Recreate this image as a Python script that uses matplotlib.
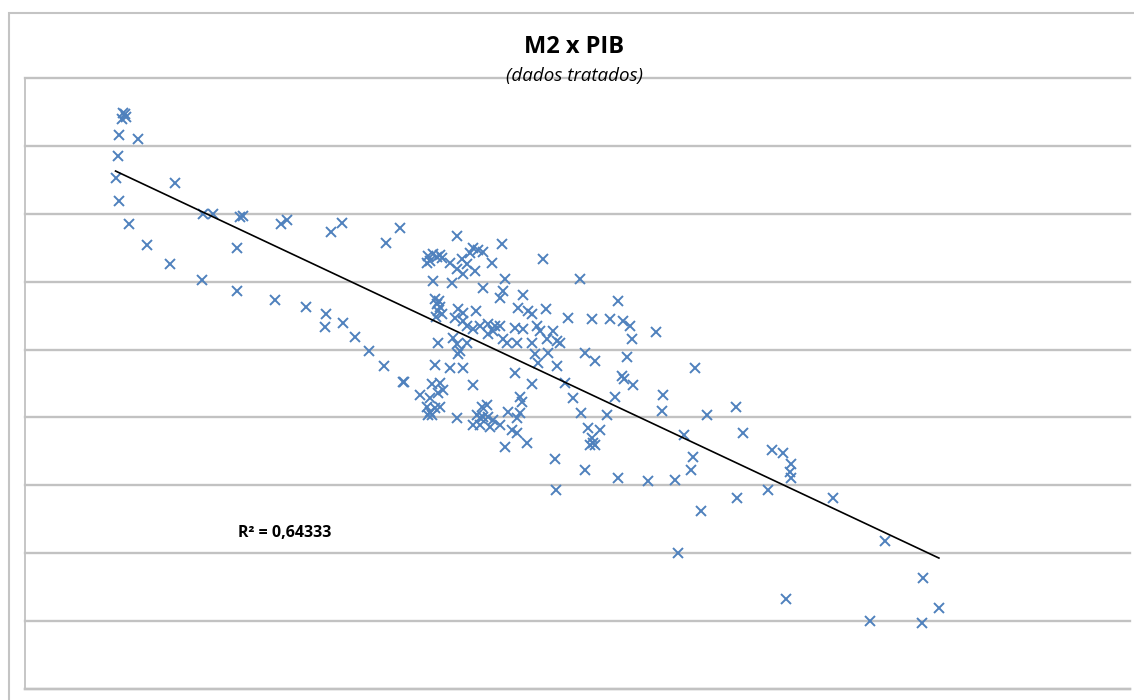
import numpy as np
import matplotlib
matplotlib.use("Agg")
import matplotlib.pyplot as plt
from matplotlib.patches import Rectangle

# ---- data (arbitrary units) ----
x_vals = [98, 100, 97, 101, 94, 113, 93, 91, 150, 94, 104, 122, 145, 177, 212, 250, 281, 301, 300, 318,
          178, 188, 215, 218, 212, 256, 262, 306, 317, 361, 375,
          330, 344, 359, 378, 395,
          432, 477, 448, 453, 445, 458,
          403, 408, 412, 417, 405, 402, 415,
          425, 437, 432, 442, 450, 438, 467, 518,
          480, 408, 427, 458, 478, 475, 555, 498,
          410, 412, 415, 413, 417, 411, 414,
          433, 438, 451, 493, 503, 507, 521, 543, 567, 585, 598, 593, 605, 607, 631,
          455, 463, 470, 475, 448, 463, 468, 430, 438, 442,
          490, 498, 512, 515, 528, 522, 532, 492, 507, 478, 482, 413, 428, 432, 435, 433, 442,
          510, 513, 523, 535, 560, 570, 602,
          410, 425, 438, 490, 532, 507, 540, 597, 599, 608,
          379, 407, 415, 418, 448,
          405, 413, 402, 405, 410, 415, 403, 407,
          495, 497, 548, 590, 638, 637, 556, 582, 432,
          457, 462, 452, 455, 458, 463, 468, 483, 492, 495,
          448, 455, 465, 475, 487, 492,
          563, 575, 567, 570, 568, 565, 480, 502,
          530, 531, 560, 593, 623, 650,
          670, 682, 711, 659, 718, 668, 666, 747, 758, 766, 765, 766, 743, 712, 808, 676, 860, 653, 898, 761,
          914, 845, 897]
y_vals = [577, 576, 571, 573, 555, 551, 534, 512, 507, 489, 466, 445, 426, 410, 399, 390, 383, 376, 363, 367,
          476, 476, 473, 474, 442, 466, 470, 458, 467, 447, 462,
          353, 339, 324, 308, 294,
          454, 446, 442, 440, 437, 438,
          434, 436, 433, 432, 429, 427, 435,
          427, 431, 421, 426, 419, 416, 427, 431,
          411, 409, 407, 402, 399, 392, 411, 395,
          391, 386, 383, 379, 376, 373, 389,
          381, 377, 379, 382, 379, 376, 381, 372, 371, 371, 369, 389, 364, 351, 358,
          364, 366, 364, 364, 361, 356, 359, 372, 369, 364,
          362, 361, 364, 359, 359, 351, 349, 347, 347, 351, 347, 347, 352, 346, 339, 336, 347,
          336, 327, 337, 347, 337, 329, 333,
          325, 322, 322, 317, 324, 305, 307, 314, 311, 304,
          308, 306, 307, 299, 304,
          291, 296, 282, 277, 281, 282, 274, 274,
          292, 287, 291, 292, 294, 278, 276, 274, 271,
          282, 284, 274, 271, 272, 272, 269, 277, 271, 276,
          264, 264, 262, 264, 259, 256,
          261, 259, 251, 244, 246, 244, 242, 246,
          230, 199, 219, 211, 208, 209,
          322, 274, 282, 254, 256, 232, 219, 239, 236, 225, 217, 211, 199, 191, 191, 178, 148, 136, 111, 90,
          81, 68, 66]

title = "M2 x PIB"
subtitle = "(dados tratados)"
r2_label = "R\u00b2 = 0,64333"

x = np.array(x_vals, dtype=float)
y = np.array(y_vals, dtype=float)

W, H = 1134, 700
fig = plt.figure(figsize=(W / 100, H / 100), dpi=100)
fig.patch.set_facecolor("white")

# outer chart border
fig.patches.append(Rectangle((8.5 / W, -0.1), 1.2, 1 - 12.5 / H + 0.1, transform=fig.transFigure,
                             fill=False, edgecolor="#C4C4C4", linewidth=1.5))

ax = fig.add_axes([24.5 / W, 1 - 689 / H, (1130 - 24.5) / W, 611 / H])
ax.set_xlim(0, 1105)
ax.set_ylim(0, 611)
ax.set_yticks(np.arange(0, 613, 68))
ax.set_xticks([])
ax.tick_params(left=False, labelleft=False, bottom=False, labelbottom=False)
ax.grid(axis="y", color="#C2C2C2", linewidth=1.7)
for gl in ax.get_ygridlines():
    gl.set_clip_on(False)
ax.set_axisbelow(True)
for s in ["top", "right"]:
    ax.spines[s].set_visible(False)
ax.spines["left"].set_color("#C2C2C2")
ax.spines["left"].set_linewidth(1.3)
ax.spines["bottom"].set_color("#C2C2C2")
ax.spines["bottom"].set_linewidth(1.7)

ax.plot(x, y, linestyle="none", marker="x", markersize=7.2, markeredgewidth=1.4,
        color="#4F81BD", zorder=3)

# linear trendline over the data range
m, b = np.polyfit(x, y, 1)
xs = np.array([x.min(), x.max()])
ax.plot(xs, m * xs + b, color="black", linewidth=1.2, zorder=4)

fig.text(574.5 / W, 1 - 47 / H, title, ha="center", va="center", fontsize=17,
         fontweight="bold", family="Open Sans")
fig.text(575 / W, 1 - 76 / H, subtitle, ha="center", va="center", fontsize=13.5,
         style="italic", family="Open Sans")
fig.text(285 / W, 1 - 533 / H, r2_label, ha="center", va="center", fontsize=11.5,
         fontweight="bold", family="Open Sans")

fig.savefig("out.png", dpi=100)
